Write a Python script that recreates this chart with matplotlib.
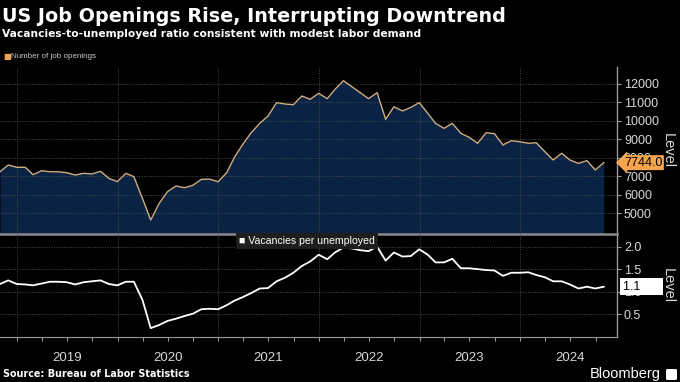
import matplotlib
matplotlib.use("Agg")
import matplotlib.pyplot as plt
import matplotlib.dates as mdates
from matplotlib.patches import FancyBboxPatch
import pandas as pd

# ---------------- data ----------------
months = pd.date_range("2018-10-31", periods=73, freq="ME")

openings = [
    7250, 7615, 7490,
    7490, 7090, 7306, 7252, 7250, 7198, 7073, 7165, 7130, 7273, 6895, 6715,
    7165, 6985, 5810, 4637, 5540, 6170, 6478, 6386, 6515, 6840, 6850, 6710,
    7200, 8030, 8750, 9365, 9870, 10267, 10989, 10917, 10880, 11350, 11170, 11495,
    11205, 11710, 12180, 11855, 11530, 11205, 11530, 10090, 10770, 10540, 10730, 10990,
    10413, 9870, 9600, 9870, 9330, 9115, 8790, 9365, 9310, 8700, 8930, 8875,
    8790, 8820, 8335, 7885, 8250, 7885, 7705, 7850, 7344, 7744,
]

ratio = [
    1.17, 1.25, 1.17,
    1.16, 1.14, 1.18, 1.22, 1.22, 1.21, 1.16, 1.21, 1.23, 1.25, 1.17, 1.14,
    1.22, 1.22, 0.82, 0.19, 0.26, 0.35, 0.40, 0.46, 0.51, 0.61, 0.62, 0.61,
    0.70, 0.80, 0.88, 0.97, 1.07, 1.08, 1.23, 1.31, 1.42, 1.57, 1.67, 1.82,
    1.72, 1.87, 1.98, 1.96, 1.92, 1.90, 2.00, 1.69, 1.87, 1.78, 1.79, 1.94,
    1.82, 1.65, 1.65, 1.73, 1.52, 1.52, 1.50, 1.48, 1.47, 1.35, 1.42, 1.42,
    1.43, 1.37, 1.32, 1.23, 1.23, 1.16, 1.07, 1.11, 1.07, 1.11,
]

top_ticks = [5000, 6000, 7000, 8000, 9000, 10000, 11000, 12000]
bottom_ticks = [0.5, 1.0, 1.5, 2.0]
years = [2019, 2020, 2021, 2022, 2023, 2024]

title = "US Job Openings Rise, Interrupting Downtrend"
subtitle = "Vacancies-to-unemployed ratio consistent with modest labor demand"
legend_top = "Number of job openings"
legend_bottom = "Vacancies per unemployed"
source = "Source: Bureau of Labor Statistics"

# ---------------- style ----------------
BG = "black"
FILL = "#0a2244"
LINE = "#cfae7f"
ORANGE = "#f5a54e"
GRID = "#4a4a4a"
TICKC = "#d8d8d8"
SPINE = "#9a9a9a"
TICKFONT = "Liberation Sans"

fig = plt.figure(figsize=(6.8, 3.82), dpi=100, facecolor=BG)
ax1 = fig.add_axes([0.0, 0.3874, 0.9074, 0.4372], facecolor=BG)
ax2 = fig.add_axes([0.0, 0.1186, 0.9074, 0.2688], facecolor=BG, sharex=ax1)

x = mdates.date2num(months)
xlim = (mdates.date2num(pd.Timestamp("2018-10-31")), mdates.date2num(pd.Timestamp("2024-12-18")))

# top panel
ax1.fill_between(x, openings, 0, color=FILL, lw=0, zorder=1)
ax1.plot(x, openings, color=LINE, lw=1.0, zorder=3)
ax1.set_ylim(3880, 12920)
ax1.set_yticks(top_ticks)

# bottom panel
ax2.plot(x, ratio, color="white", lw=1.3, zorder=3)
ax2.set_ylim(0, 2.28)
ax2.set_yticks(bottom_ticks)
ax2.set_xlim(*xlim)

for ax in (ax1, ax2):
    ax.set_axisbelow(False)
    ax.grid(True, which="major", color=GRID, linestyle=(0, (1, 1.5)), lw=0.7)
    ax.yaxis.tick_right()
    ax.tick_params(axis="y", which="both", left=False, right=True, labelleft=False,
                   labelright=True, length=3, width=0.8, color=SPINE, pad=2,
                   labelsize=9, labelcolor=TICKC)
    for lab in ax.get_yticklabels():
        lab.set_fontfamily(TICKFONT)
    for s in ("left", "top", "bottom"):
        ax.spines[s].set_visible(False)
    ax.spines["right"].set_color(SPINE)
    ax.spines["right"].set_linewidth(1.0)
    ax.xaxis.set_major_locator(mdates.YearLocator())
    ax.xaxis.set_minor_locator(mdates.MonthLocator(bymonth=[4, 7, 10]))
    ax.yaxis.set_label_position("right")
    ax.set_ylabel("Level", rotation=270, color=TICKC, fontsize=10.5,
                  fontfamily=TICKFONT, va="center", ha="center")
    ax.yaxis.set_label_coords(1.083, 0.5)

ax1.tick_params(axis="x", which="both", length=0, labelbottom=False)
ax2.spines["top"].set_visible(True)
ax2.spines["top"].set_color("#8a8a8a")
ax2.spines["top"].set_linewidth(1.8)
ax2.spines["bottom"].set_visible(True)
ax2.spines["bottom"].set_color(SPINE)
ax2.tick_params(axis="x", which="both", direction="out", length=3, width=0.8,
                color=SPINE, labelbottom=False)

for yr in years:
    mid = mdates.date2num(pd.Timestamp(f"{yr}-07-01"))
    ax2.text(mid, -0.205, str(yr), transform=ax2.get_xaxis_transform(),
             ha="center", va="center", color=TICKC, fontsize=9.5, fontfamily=TICKFONT)

# value tags
ax1.annotate(f"{openings[-1]:.1f}", xy=(1.0, openings[-1]), xycoords=("axes fraction", "data"),
             xytext=(5, 0), textcoords="offset points", ha="left", va="center",
             fontsize=9, fontfamily=TICKFONT, color="black", annotation_clip=False,
             bbox=dict(boxstyle="larrow,pad=0.12", fc=ORANGE, ec="none"), zorder=10)
ax2.annotate(f"{ratio[-1]:.1f}" + "      ", xy=(1.0, ratio[-1]), xycoords=("axes fraction", "data"),
             xytext=(4, 0), textcoords="offset points", ha="left", va="center",
             fontsize=9, fontfamily=TICKFONT, color="black", annotation_clip=False,
             bbox=dict(boxstyle="square,pad=0.2", fc="white", ec="none"), zorder=10)

# legends
fig.text(3.5 / 680, 1 - 57 / 382, "\u25A0", color=ORANGE, fontsize=6, va="center", ha="left")
fig.text(11 / 680, 1 - 57 / 382, legend_top, color="#c8c8c8", fontsize=5.8,
         va="center", ha="left", fontfamily=TICKFONT)
ax2.text(0.388, 0.935, "\u25A0 " + legend_bottom, transform=ax2.transAxes, color="white",
         fontsize=7.6, fontfamily=TICKFONT, va="center", ha="left", zorder=6,
         bbox=dict(boxstyle="square,pad=0.3", fc="#1e1e1e", ec="none"))

# titles
fig.text(2 / 680, 1 - 16 / 382, title, color="white", fontsize=13.8, fontweight="bold",
         va="center", ha="left")
fig.text(2 / 680, 1 - 34 / 382, subtitle, color="white", fontsize=7.7, fontweight="bold",
         va="center", ha="left")

# footer
fig.text(3 / 680, 1 - 374 / 382, source, color="white", fontsize=6.9, fontweight="bold",
         va="center", ha="left")
fig.text(661 / 680, 1 - 374 / 382, "Bloomberg", color="white", fontsize=10.5,
         va="center", ha="right", fontfamily=TICKFONT)
icon = FancyBboxPatch((666 / 680, 1 - 380 / 382), 11 / 680, 11 / 382,
                      boxstyle="round,pad=0,rounding_size=0.003", transform=fig.transFigure,
                      fc="white", ec="none")
fig.patches.append(icon)

fig.savefig("out.png", dpi=100, facecolor=BG)
